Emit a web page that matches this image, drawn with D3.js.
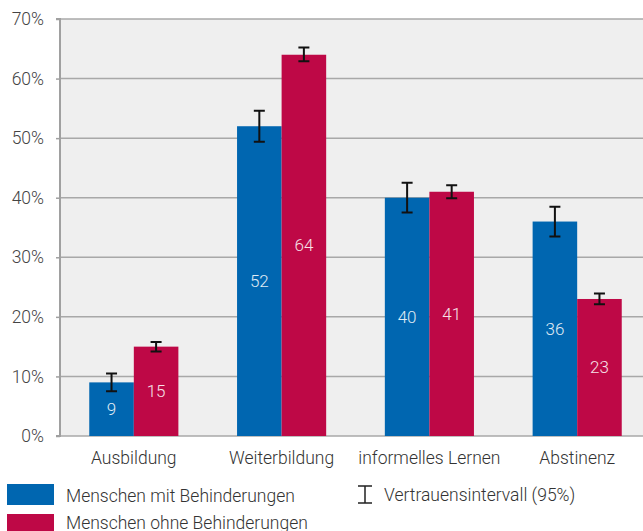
<!DOCTYPE html>
<html>
<head>
<meta charset="utf-8">
<script src="https://cdn.jsdelivr.net/npm/d3@7"></script>
<style>
  body { margin: 0; background: #fff; }
  text { font-family: Roboto, "Noto Sans", sans-serif; font-weight: 300; }
</style>
</head>
<body>
<div id="chart"></div>
<script>
"use strict"

// data
const categories = ["Ausbildung", "Weiterbildung", "informelles Lernen", "Abstinenz"];
const seriesNames = ["Menschen mit Behinderungen", "Menschen ohne Behinderungen"];
const valuesMit = [9, 52, 40, 36];
const valuesOhne = [15, 64, 41, 23];
const ciMit = [[7.5, 10.5], [49.4, 54.6], [37.5, 42.5], [33.5, 38.5]];
const ciOhne = [[14.2, 15.8], [62.9, 65.2], [39.9, 42.1], [22.1, 23.9]];
const yTicks = [0, 10, 20, 30, 40, 50, 60, 70];
const ciLabel = "Vertrauensintervall (95%)";

let BarChart = function(targetID) {
	let self = {
		totalWidth: 643,
		totalHeight: 531,
		margin: {left: 60, top: 19, right: -8, bottom: 95},
		colors: ["#0066b0", "#be0846"],
		fontSize: "17.5px",
		xScale: d3.scaleBand(),
		subScale: d3.scaleBand(),
		yScale: d3.scaleLinear(),
	}

	function draw() {
		let width = self.totalWidth - self.margin.left - self.margin.right;
		let height = self.totalHeight - self.margin.top - self.margin.bottom;

		let svg = d3.select(targetID).append("svg")
			.attr("width", self.totalWidth)
			.attr("height", self.totalHeight);

		let g = svg.append("g")
			.attr("transform", `translate(${self.margin.left},${self.margin.top})`);

		self.xScale.domain(categories).range([0, width]).paddingInner(0.397).paddingOuter(0.198);
		self.subScale.domain([0, 1]).range([0, self.xScale.bandwidth()]);
		self.yScale.domain([0, 70]).range([height, 0]);

		g.append("rect")
			.attr("width", width).attr("height", height)
			.style("fill", "#efefef");

		// grid lines
		g.append("g").selectAll("line")
			.data(yTicks)
			.enter().append("line")
				.attr("x1", 0).attr("x2", width)
				.attr("y1", d => self.yScale(d)).attr("y2", d => self.yScale(d))
				.style("stroke", "#a8a8a8").style("stroke-width", 1.5);

		// y axis
		let yAxis = g.append("g")
			.call(d3.axisLeft(self.yScale).tickValues(yTicks).tickSize(4).tickFormat(d => d + "%"));
		yAxis.select(".domain").style("stroke", "#a0a0a0").style("stroke-width", 2).attr("d", `M-4,${height}H0V0H-4`);
		yAxis.selectAll(".tick line").style("stroke", "#a0a0a0").style("stroke-width", 1.5);
		yAxis.selectAll(".tick text").attr("x", -16).style("font-size", self.fontSize).style("fill", "#444");

		let series = [
			{vals: valuesMit, ci: ciMit},
			{vals: valuesOhne, ci: ciOhne},
		];

		series.forEach((s, si) => {
			let sg = g.append("g");
			let rows = categories.map((c, i) => ({cat: c, v: s.vals[i], ci: s.ci[i]}));

			sg.selectAll("rect")
				.data(rows)
				.enter().append("rect")
					.attr("x", d => self.xScale(d.cat) + self.subScale(si))
					.attr("width", self.subScale.bandwidth())
					.attr("y", d => self.yScale(d.v))
					.attr("height", d => height - self.yScale(d.v))
					.style("fill", self.colors[si]);

			sg.selectAll(".val")
				.data(rows)
				.enter().append("text")
					.attr("class", "val")
					.attr("x", d => self.xScale(d.cat) + self.subScale(si) + self.subScale.bandwidth() / 2)
					.attr("y", d => (self.yScale(d.v) + height) / 2)
					.attr("dy", "0.35em")
					.attr("text-anchor", "middle")
					.style("font-size", "17px")
					.style("fill", "#fff")
					.style("opacity", 0.88)
					.text(d => d.v);

			let eb = sg.selectAll(".err")
				.data(rows)
				.enter().append("g")
					.attr("class", "err")
					.attr("transform", d => `translate(${self.xScale(d.cat) + self.subScale(si) + self.subScale.bandwidth() / 2},0)`);
			eb.append("path")
				.attr("d", d => `M-5.5,${self.yScale(d.ci[1])}H5.5M0,${self.yScale(d.ci[1])}V${self.yScale(d.ci[0])}M-5.5,${self.yScale(d.ci[0])}H5.5`)
				.style("stroke", "#111").style("stroke-width", 2).style("fill", "none");
		});

		// category labels
		g.append("g").selectAll("text")
			.data(categories)
			.enter().append("text")
				.attr("x", d => self.xScale(d) + self.xScale.bandwidth() / 2)
				.attr("y", height + 28)
				.attr("text-anchor", "middle")
				.style("font-size", self.fontSize)
				.style("fill", "#333")
				.text(d => d);

		// legend
		let legend = svg.append("g");
		seriesNames.forEach((n, i) => {
			legend.append("rect")
				.attr("x", 7).attr("y", 484 + i * 30)
				.attr("width", 47).attr("height", 21)
				.style("fill", self.colors[i]);
			legend.append("text")
				.attr("x", 66).attr("y", 496 + i * 27).attr("dy", "0.35em")
				.style("font-size", self.fontSize).style("fill", "#333")
				.text(n);
		});
		legend.append("path")
			.attr("d", "M358,486H372M365,486V503M358,503H372")
			.style("stroke", "#222").style("stroke-width", 1.5).style("fill", "none");
		legend.append("text")
			.attr("x", 384).attr("y", 495).attr("dy", "0.35em")
			.style("font-size", self.fontSize).style("fill", "#333")
			.text(ciLabel);
	}

	return { draw };
}

BarChart("#chart").draw();
</script>
</body>
</html>
